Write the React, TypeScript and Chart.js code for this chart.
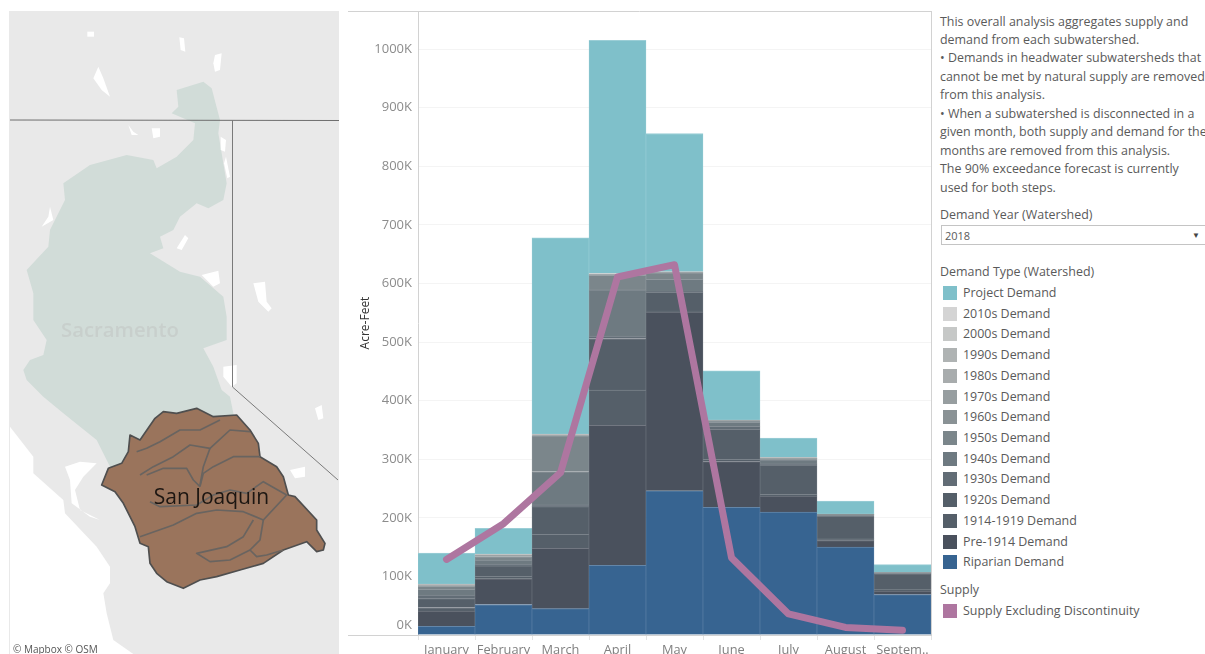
import React, { useEffect, useRef } from "react";
import { Chart, registerables } from "chart.js";

Chart.register(...registerables);

const months = ["January", "February", "March", "April", "May", "June", "July", "August", "Septem.."];
const yTickStep = 100;
const yAxisMax = 1065;

// Segment sizes in thousands of acre-feet
const riparian = [15, 52, 45, 119, 246, 218, 210, 150, 69];
const pre1914 = [26, 44, 103, 239, 305, 78, 27, 11, 6];
const d1914 = [6, 4, 24, 60, 2, 4, 3, 3, 3];
const d1920s = [15, 18, 47, 88, 32, 51, 50, 39, 27];
const d1930s = [6, 3, 3, 4, 2, 5, 2, 1, 0.5];
const d1940s = [10, 7, 57, 79, 20, 7, 7, 1, 0.5];
const d1950s = [5, 6, 61, 25, 11, 2, 2, 0.5, 0.5];
const d1960s = [1, 1, 0.5, 0.5, 0.5, 0.5, 0.5, 0, 0];
const d1970s = [1, 1, 0.5, 0.5, 0.5, 0.5, 0.5, 0.5, 0];
const d1980s = [0.5, 0.5, 0.5, 0.5, 0.25, 0.25, 0.25, 0, 0];
const d1990s = [0.5, 0.5, 0.5, 0.5, 0.25, 0.25, 0.25, 0, 0];
const d2000s = [1, 1, 1, 1, 0.5, 0.5, 0.5, 0.5, 0.5];
const d2010s = [0, 0, 0, 0, 0, 0, 0, 0, 0];
const project = [53, 44, 335, 398, 236, 84, 33, 22, 13];
const supply = [129, 190, 277, 611, 632, 132, 36, 13, 8];

const noteLines = [
  "This overall analysis aggregates supply and",
  "demand from each subwatershed.",
  "\u2022 Demands in headwater subwatersheds that",
  "cannot be met by natural supply are removed",
  "from this analysis.",
  "\u2022 When a subwatershed is disconnected in a",
  "given month, both supply and demand for the",
  "months are removed from this analysis.",
  "The 90% exceedance forecast is currently",
  "used for both steps.",
];

const stackSeries: [string, number[], string][] = [
  ["Riparian Demand", riparian, "#376491"],
  ["Pre-1914 Demand", pre1914, "#4a515d"],
  ["1914-1919 Demand", d1914, "#555f69"],
  ["1920s Demand", d1920s, "#555f69"],
  ["1930s Demand", d1930s, "#626d76"],
  ["1940s Demand", d1940s, "#6e7a81"],
  ["1950s Demand", d1950s, "#7b868b"],
  ["1960s Demand", d1960s, "#8a9295"],
  ["1970s Demand", d1970s, "#979ea0"],
  ["1980s Demand", d1980s, "#a8acad"],
  ["1990s Demand", d1990s, "#afb3b3"],
  ["2000s Demand", d2000s, "#c6c8c7"],
  ["2010s Demand", d2010s, "#d4d4d4"],
  ["Project Demand", project, "#7fc0ca"],
];
const supplyName = "Supply Excluding Discontinuity";
const supplyColor = "#ae76a0";

const FONT = '"Open Sans", sans-serif';

function lighten(hex: string, amount: number) {
  const n = parseInt(hex.slice(1), 16);
  const mix = (c: number) => Math.round(c + (255 - c) * amount);
  return `rgb(${mix((n >> 16) & 255)},${mix((n >> 8) & 255)},${mix(n & 255)})`;
}

const framePlugin = {
  id: "frame",
  afterDraw(chart: any) {
    const { ctx, chartArea } = chart;
    ctx.save();
    ctx.strokeStyle = "#d2d2d2";
    ctx.lineWidth = 1;
    ctx.beginPath();
    ctx.moveTo(0, chartArea.top + 0.5);
    ctx.lineTo(chartArea.right, chartArea.top + 0.5);
    ctx.moveTo(0, chartArea.bottom + 0.5);
    ctx.lineTo(chartArea.right, chartArea.bottom + 0.5);
    ctx.moveTo(chartArea.right + 0.5, chartArea.top);
    ctx.lineTo(chartArea.right + 0.5, chartArea.bottom);
    ctx.stroke();
    ctx.restore();
  },
};

function MapPanel() {
  const sacramento =
    "530,270 610,245 635,265 660,360 655,400 680,550 670,600 625,625 590,610 540,650 520,690 480,710 490,745 450,760 540,815 600,830 670,890 680,950 680,1020 610,1045 640,1100 665,1170 690,1190 700,1240 720,1300 400,1500 330,1400 290,1320 190,1240 130,1190 80,1140 70,1110 90,1080 130,1065 140,1020 100,960 100,880 80,810 145,740 150,690 195,600 190,550 270,495 380,465 460,480 470,505 530,470 580,420 585,370 515,340 535,320";
  const basin =
    "305,315 325,265 365,250 385,215 390,165 420,180 465,115 490,95 530,100 590,85 640,110 710,105 750,150 775,190 780,230 830,260 850,290 865,345 885,350 950,420 950,450 975,490 970,510 950,515 920,485 850,510 790,550 720,570 650,590 600,600 550,625 500,605 470,580 450,550 445,500 420,490 405,440 370,370 345,335";
  const rivers = [
    "410,215 440,205 480,185 540,150 600,150 660,120",
    "420,285 460,260 520,230 570,195 630,205 690,150 750,155",
    "630,205 610,260 600,315",
    "440,285 490,265 560,265 580,300 600,320",
    "600,320 610,280 640,260 700,230 780,230",
    "450,365 480,380 590,375 640,345 690,330 740,340 790,305 860,345",
    "420,470 520,435 590,400 650,390 730,395 790,420 860,345",
    "790,420 780,480 750,510 690,540 630,545 590,520 680,500 730,470 760,420",
    "750,510 770,530 800,525 850,510",
  ];
  const ocean =
    "30,140 100,230 100,280 190,360 195,400 290,500 330,560 330,610 310,640 320,700 340,780 400,822 30,822";
  const bay = "195,260 240,245 290,250 250,290 225,330 240,390 300,420 270,410 215,370 210,300";
  const lakesTop = [
    "262,95 282,95 282,110 262,110",
    "538,112 552,115 556,155 542,150",
    "645,165 665,160 660,210 645,215 640,190",
    "295,200 310,235 330,290 305,270 280,235",
    "385,375 400,395 415,405 395,405",
    "455,385 480,385 480,410 460,415",
    "662,410 678,420 675,455 662,450",
    "678,470 690,530 682,535 672,490",
    "605,825 655,812 660,850 640,860",
    "530,745 555,705 565,715 545,750",
    "760,850 795,845 800,905 815,925 805,935 775,905",
    "150,620 160,660 125,680 145,650",
    "670,1100 710,1095 710,1150 695,1160 670,1130",
  ];
  const lakesBottom = [
    "945,85 965,75 970,115 955,120",
    "870,270 915,260 915,290 885,295",
  ];
  return (
    <svg
      width={330}
      height={643}
      viewBox="9 11 330 643"
      style={{ position: "absolute", left: 9, top: 11, filter: "blur(0.5px)" }}
    >
      <rect x={9} y={11} width={330} height={643} fill="#e9e9e9" />
      <g transform="translate(0,380) scale(0.33333)">
        <polygon points={ocean} fill="#ffffff" />
        <polygon points={bay} fill="#ffffff" />
        {lakesBottom.map((p, i) => (
          <polygon key={i} points={p} fill="#ffffff" />
        ))}
      </g>
      <g transform="scale(0.33333)">
        <polygon points={sacramento} fill="#d1dcd8" />
        {lakesTop.map((p, i) => (
          <polygon key={i} points={p} fill="#ffffff" />
        ))}
      </g>
      <line x1={10} y1={120} x2={339} y2={120.5} stroke="#6e6e6e" strokeWidth={1} />
      <polyline points="232.5,120 232.5,387 338,480" fill="none" stroke="#7a7a7a" strokeWidth={1} />
      <text x={120} y={337} textAnchor="middle" fontFamily={FONT} fontWeight={600} fontSize={20.3} fill="#c8cfcc">
        Sacramento
      </text>
      <g transform="translate(0,380) scale(0.33333)">
        <polygon points={basin} fill="#9a745c" stroke="#4f4f4f" strokeWidth={5} strokeLinejoin="round" />
        {rivers.map((p, i) => (
          <polyline key={i} points={p} fill="none" stroke="#696460" strokeWidth={5} strokeLinejoin="round" />
        ))}
      </g>
      <text x={211.5} y={504} textAnchor="middle" fontFamily={FONT} fontSize={21} fill="#1c1612">
        San Joaquin
      </text>
      <text x={13} y={653} fontFamily={FONT} fontSize={10} fill="#555555">
        {"\u00A9 Mapbox  \u00A9 OSM"}
      </text>
    </svg>
  );
}

function SidePanel() {
  const text: React.CSSProperties = {
    position: "absolute",
    left: 940,
    fontFamily: FONT,
    fontSize: 12.45,
    lineHeight: "18px",
    color: "#5a5a5a",
    whiteSpace: "nowrap",
  };
  const legend = [...stackSeries].reverse();
  return (
    <>
      {noteLines.map((l, i) => (
        <div key={i} style={{ ...text, top: 12.5 + i * 18.45 }}>
          {l}
        </div>
      ))}
      <div style={{ ...text, top: 205.5 }}>Demand Year (Watershed)</div>
      <div
        style={{
          position: "absolute",
          left: 941,
          top: 225,
          width: 264,
          height: 20,
          border: "1px solid #c4c4c4",
          borderRight: "none",
          boxSizing: "border-box",
        }}
      />
      <div style={{ ...text, left: 945, top: 226.5, fontSize: 11 }}>2018</div>
      <div style={{ ...text, left: 1192, top: 226, fontSize: 8, color: "#444" }}>{"\u25BC"}</div>
      <div style={{ ...text, top: 263 }}>Demand Type (Watershed)</div>
      {legend.map(([name, , color], i) => (
        <React.Fragment key={name}>
          <div
            style={{
              position: "absolute",
              left: 943,
              top: 286 + i * 20.72,
              width: 14,
              height: 14,
              background: color,
            }}
          />
          <div style={{ ...text, left: 963, top: 284 + i * 20.72 }}>{name}</div>
        </React.Fragment>
      ))}
      <div style={{ ...text, top: 581 }}>Supply</div>
      <div
        style={{ position: "absolute", left: 943, top: 604, width: 14, height: 14, background: supplyColor }}
      />
      <div style={{ ...text, left: 963, top: 602 }}>{supplyName}</div>
    </>
  );
}

export default function App() {
  const ref = useRef<HTMLCanvasElement>(null);

  useEffect(() => {
    if (!ref.current) return;
    const chart = new Chart(ref.current, {
      type: "bar",
      data: {
        labels: months,
        datasets: [
          {
            type: "line",
            label: supplyName,
            data: supply,
            borderColor: supplyColor,
            backgroundColor: supplyColor,
            borderWidth: 7,
            borderCapStyle: "round",
            borderJoinStyle: "round",
            pointRadius: 0,
            tension: 0,
            fill: false,
            order: 0,
          },
          ...stackSeries.map(([label, data, color]) => ({
            type: "bar",
            label,
            data,
            backgroundColor: color,
            borderColor: lighten(color, 0.22),
            borderWidth: { top: 1, left: 0.5, right: 0.5, bottom: 0 },
            borderSkipped: false,
            stack: "demand",
            barPercentage: 1,
            categoryPercentage: 1,
            order: 1,
          })),
        ],
      } as any,
      options: {
        animation: false,
        responsive: false,
        layout: { autoPadding: false, padding: { top: 11, right: 7, left: 0, bottom: 0 } },
        plugins: { legend: { display: false }, tooltip: { enabled: false } },
        scales: {
          x: {
            stacked: true,
            afterFit: (s: any) => {
              s.height = 19;
              s.paddingLeft = 0;
              s.paddingRight = 0;
            },
            border: { color: "#d2d2d2" },
            grid: { drawOnChartArea: false, drawTicks: true, tickLength: 5, color: "#e4e4e4" },
            ticks: {
              autoSkip: false,
              maxRotation: 0,
              padding: 3,
              color: "#808080",
              font: { family: FONT, size: 12.8 },
            },
          },
          y: {
            stacked: true,
            min: 0,
            max: yAxisMax,
            afterFit: (s: any) => {
              s.width = 70;
              s.paddingTop = 0;
              s.paddingBottom = 0;
            },
            border: { color: "#d2d2d2" },
            grid: { color: "#f4f4f4", drawTicks: false },
            title: {
              display: true,
              text: "Acre-Feet",
              color: "#333333",
              font: { family: FONT, size: 12 },
              padding: { top: 10, bottom: 0 },
            },
            ticks: {
              stepSize: yTickStep,
              includeBounds: false,
              padding: 6,
              color: "#8c8c8c",
              font: (c: any) => ({
                family: FONT,
                size: 13,
                lineHeight: c.tick && c.tick.value === 0 ? "20px" : "14px",
              }),
              callback: (v: any) => (v === 0 ? ["0K", ""] : `${v}K`),
            },
          },
        },
      } as any,
      plugins: [framePlugin],
    });
    return () => chart.destroy();
  }, []);

  return (
    <div
      style={{
        position: "absolute",
        left: 0,
        top: 0,
        width: 1205,
        height: 654,
        overflow: "hidden",
        background: "#fff",
        filter: "blur(0.35px)",
      }}
    >
      <MapPanel />
      <canvas
        ref={ref}
        width={590}
        height={654}
        style={{ position: "absolute", left: 348, top: 0, width: 590, height: 654 }}
      />
      <SidePanel />
    </div>
  );
}
